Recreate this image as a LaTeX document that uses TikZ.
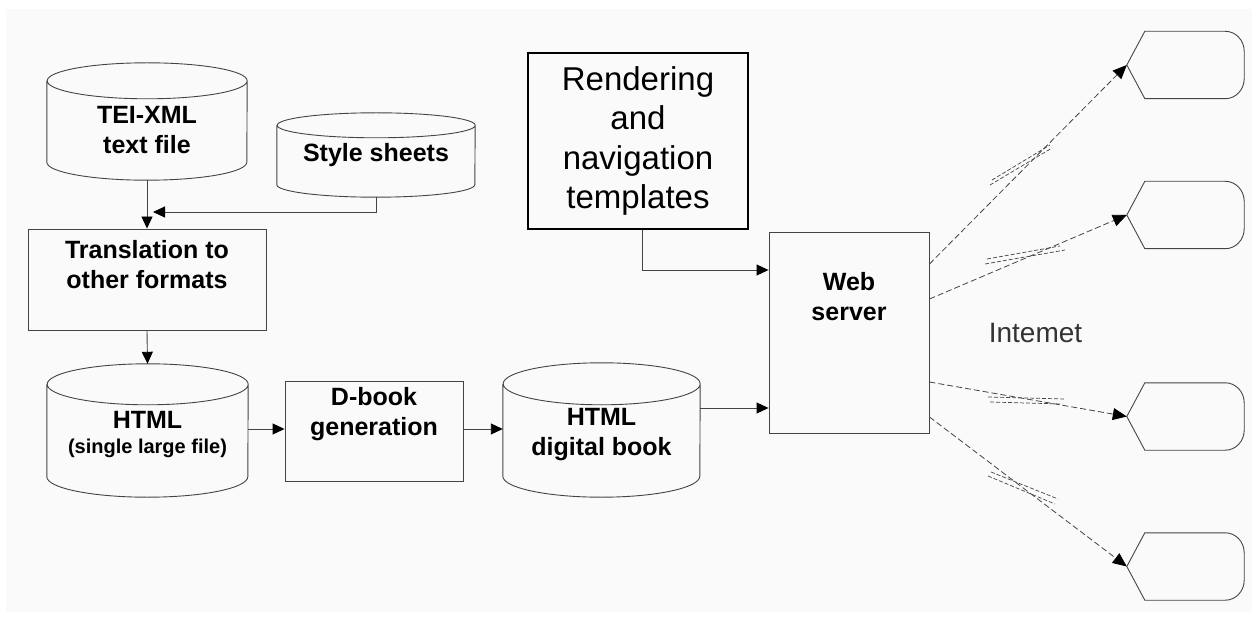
\documentclass[tikz,border=0pt]{standalone}
\usepackage{fontspec}
\setmainfont{Liberation Sans}
\usetikzlibrary{arrows.meta,calc}
\definecolor{bg}{HTML}{FAFAFA}
\definecolor{ln}{HTML}{444444}
\newcommand\drawcyl[3]{%
  \draw[shapeline] ([yshift=-#3]#1.north west) -- ([yshift=#3]#1.south west)
    arc[start angle=180,end angle=360,x radius=#2,y radius=#3]
    -- ([yshift=-#3]#1.north east)
    arc[start angle=0,end angle=180,x radius=#2,y radius=#3]
    arc[start angle=180,end angle=360,x radius=#2,y radius=#3];}
\newcommand\drawclient[1]{%
  \draw[shapeline] (#1.west) -- ([xshift=18pt]#1.north west) -- ([xshift=-19pt]#1.north east)
    arc[start angle=90,end angle=0,x radius=19pt,y radius=20pt]
    -- ([yshift=20pt]#1.south east)
    arc[start angle=0,end angle=-90,x radius=19pt,y radius=20pt]
    -- ([xshift=18pt]#1.south west) -- cycle;}
\tikzset{
  shapeline/.style={draw=ln, line width=0.9pt},
  holder/.style={inner sep=0pt, minimum width=#1},
  boxnode/.style={draw=ln, line width=0.9pt, inner sep=0pt},
  lbl/.style={align=center, inner sep=0pt, font=\fontsize{25}{30}\selectfont\bfseries},
  conn/.style={draw=ln, line width=0.9pt, -{Triangle[length=12pt,width=11pt,color=black,fill=black]}},
  dconn/.style={draw=ln, line width=0.8pt, dash pattern=on 6pt off 3pt, -{Triangle[length=14pt,width=12pt,color=black,fill=black]}},
  zap/.style={draw=ln, line width=0.7pt, dash pattern=on 4pt off 2pt},
}
\begin{document}
\begin{tikzpicture}[x=1pt,y=1pt]
\useasboundingbox (0,0) rectangle (1257,-617);
\fill[white] (0,0) rectangle (1257,-617);
\fill[bg] (6,-9) rectangle (1252,-612);

% cylinders
\node[holder=200pt, minimum height=117pt,
  label={[lbl,yshift=-8.5pt]center:{TEI-XML\\text file}}] (tei) at (147,-121.5) {};
\drawcyl{tei}{100pt}{18pt}
\node[holder=198pt, minimum height=84pt,
  label={[lbl,yshift=0pt]center:{Style sheets}}] (style) at (376,-155) {};
\drawcyl{style}{99pt}{12.5pt}
\node[holder=201pt, minimum height=133pt,
  label={[lbl,yshift=-4.5pt]center:{HTML\\[-5pt]{\fontsize{20}{22}\selectfont(single large file)}}}] (html) at (147.5,-430.5) {};
\drawcyl{html}{100.5pt}{20.5pt}
\node[holder=197pt, minimum height=134pt,
  label={[lbl,yshift=-5pt]center:{HTML\\digital book}}] (hdb) at (601.5,-430) {};
\drawcyl{hdb}{98.5pt}{21pt}

% boxes
\node[boxnode, minimum width=238pt, minimum height=101pt,
  label={[lbl,yshift=15pt]center:{Translation to\\other formats}}] (trans) at (147,-279.5) {};
\node[boxnode, minimum width=178pt, minimum height=100pt,
  label={[lbl,yshift=16.5pt]center:{D-book\\generation}}] (dbook) at (374,-431) {};
\node[draw=black, line width=1.6pt, inner sep=0pt, minimum width=220pt, minimum height=176pt,
  align=center, font=\fontsize{33}{39.5}\selectfont] (render) at (638,-141) {Rendering\\and\\navigation\\templates};
\node[boxnode, minimum width=160pt, minimum height=201pt,
  label={[lbl,yshift=35.5pt]center:{Web\\server}}] (web) at (849,-332.5) {};

\node[inner sep=0pt, text=black!80, font=\fontsize{28}{32}\selectfont] (inet) at (1035.5,-333) {Intemet};

% clients
\foreach \n/\y in {c1/65, c2/215, c3/416.5, c4/566.5}{
  \node[holder=117pt, minimum height=67pt] (\n) at (1185.5,-\y) {};
  \drawclient{\n}
}

% connectors
\coordinate (join) at (153,-212);
\draw[conn] (tei.south) -- (trans.north);
\draw[conn] (style.south) |- (join);
\draw[conn] (trans.south) -- (html.north);
\draw[conn] (html.east |- 0,-429) -- (dbook.west |- 0,-429);
\draw[conn] (dbook.east |- 0,-429) -- (hdb.west |- 0,-429);
\coordinate (rout) at ([xshift=4pt]render.south);
\coordinate (win) at ([yshift=62.5pt]web.west);
\draw[conn] (rout) |- (win);
\coordinate (hout) at ([yshift=22pt]hdb.east);
\draw[conn] (hout) -- (hout -| web.west);

\coordinate (w1) at ([yshift=68.5pt]web.east);
\coordinate (w2) at ([yshift=33.5pt]web.east);
\coordinate (w3) at ([yshift=-49.5pt]web.east);
\coordinate (w4) at ([yshift=-84.5pt]web.east);
\draw[dconn] (w1) -- (c1.west);
\draw[dconn] (w2) -- (c2.west);
\draw[dconn] (w3) -- (c3.west);
\draw[dconn] (w4) -- (c4.west);

% lightning marks
\draw[zap] (990,-185) -- (1052,-148);
\draw[zap] (992,-180) -- (1050,-145);
\draw[zap] (985,-264) -- (1065,-250);
\draw[zap] (987,-259) -- (1060,-246);
\draw[zap] (988,-397) -- (1065,-399);
\draw[zap] (990,-402) -- (1062,-404);
\draw[zap] (988,-476) -- (1055,-504);
\draw[zap] (991,-472) -- (1058,-499);
\end{tikzpicture}
\end{document}
